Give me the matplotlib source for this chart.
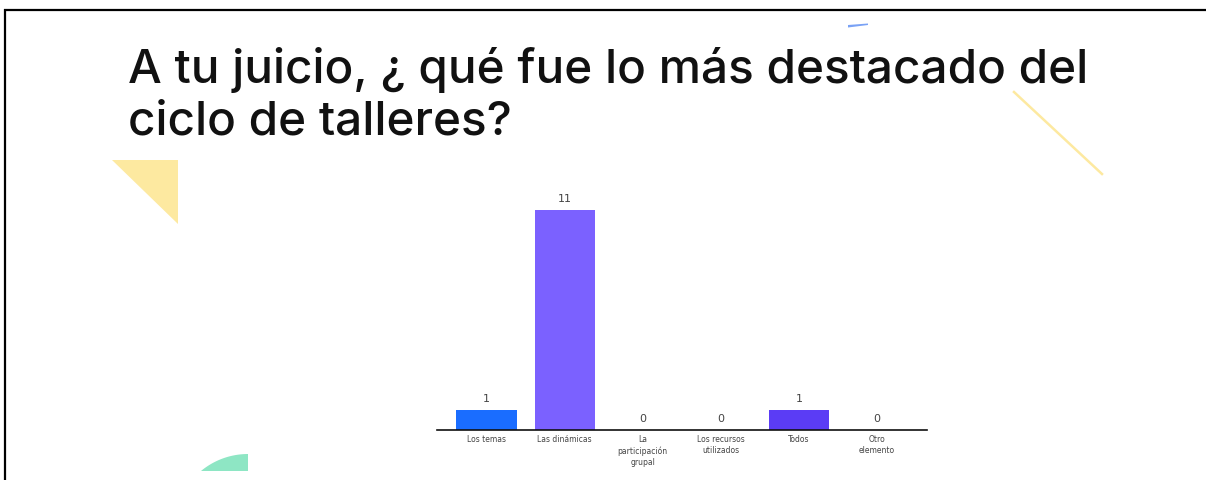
import numpy as np
import matplotlib
matplotlib.use("Agg")
import matplotlib.pyplot as plt
from matplotlib.patches import Polygon

W, H = 1206, 481

categories = ["Los temas", "Las dinámicas", "La\nparticipación\ngrupal",
              "Los recursos\nutilizados", "Todos", "Otro\nelemento"]
counts = [1, 11, 0, 0, 1, 0]
bar_colors = ["#1a6dff", "#7b61ff", "#7b61ff", "#7b61ff", "#5b3cf5", "#7b61ff"]
title_lines = ["A tu juicio, ¿ qué fue lo más destacado del", "ciclo de talleres?"]

fig = plt.figure(figsize=(W / 100, H / 100), dpi=100)
fig.patch.set_facecolor("white")

# background layer in pixel coords (y down)
bg = fig.add_axes([0, 0, 1, 1], zorder=0)
bg.set_xlim(0, W)
bg.set_ylim(H, 0)
bg.axis("off")

# slide frame
bg.plot([4, W], [10.5, 10.5], color="black", lw=1.6, solid_capstyle="butt")
bg.plot([5, 5], [10, H], color="black", lw=1.6, solid_capstyle="butt")

# decorations
bg.add_patch(Polygon([(112, 161), (178, 161), (178, 225)], closed=True,
                     facecolor="#fde9a0", edgecolor="none"))
bg.plot([1014, 1102], [93, 175], color="#fde9a0", lw=1.8)
bg.add_patch(Polygon([(848, 26), (868, 24.5), (868, 26), (848, 28.5)], closed=True,
                     facecolor="#7aa2f5", edgecolor="none"))
t = np.linspace(np.pi, 1.5 * np.pi, 60)
arc_x = 248 + 73.5 * np.cos(t)
arc_y = 528.5 + 73.5 * np.sin(t)
keep = arc_y <= 472
pts = [(arc_x[keep][0], 472)] + list(zip(arc_x[keep], arc_y[keep])) + [(248, 472)]
bg.add_patch(Polygon(pts, closed=True, facecolor="#8ee6c4", edgecolor="none"))

# title
for i, line in enumerate(title_lines):
    bg.text(128, 83 + 52 * i, line, fontsize=34.3, family="Inter", weight="medium",
            color="#111111", ha="left", va="baseline")

# bar chart
x0, x1 = 437, 927
base, top = 431, 191
ax = fig.add_axes([x0 / W, (H - base) / H, (x1 - x0) / W, (base - top) / H], zorder=1)
ax.patch.set_alpha(0)
x = np.arange(len(categories))
ax.bar(x, counts, width=0.77, color=bar_colors)
for xi, c in zip(x, counts):
    ax.text(xi, c + 0.35, str(c), ha="center", va="bottom", fontsize=8, color="#444444")
ax.set_xlim(-0.634, 5.64)
ax.set_ylim(0, 12)
for s in ["top", "right", "left"]:
    ax.spines[s].set_visible(False)
ax.spines["bottom"].set_linewidth(1.2)
ax.spines["bottom"].set_color("#111111")
ax.set_yticks([])
ax.set_xticks(x)
ax.set_xticklabels(categories, fontsize=5.5, color="#444444", linespacing=1.3)
ax.tick_params(axis="x", length=0, pad=3)

fig.savefig("out.png", dpi=100)
